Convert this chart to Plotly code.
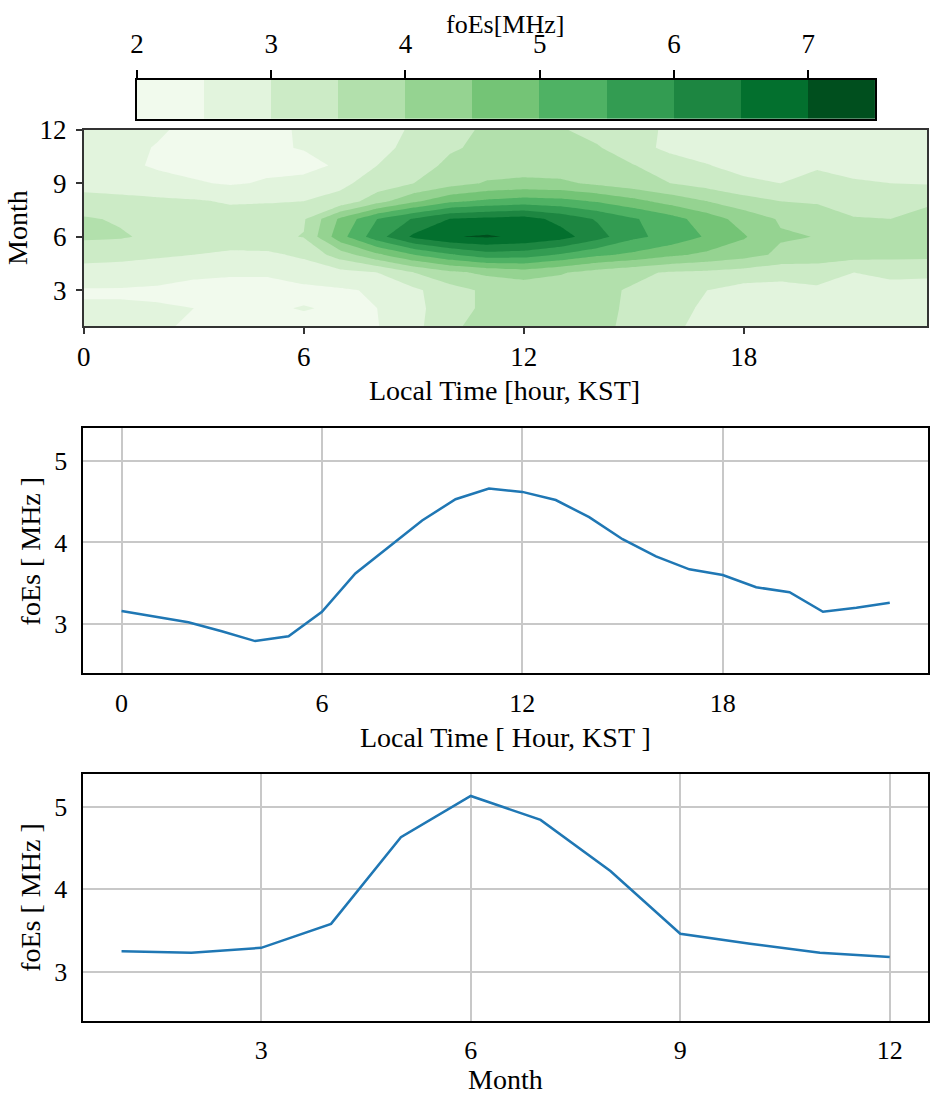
import plotly.graph_objects as go

# ---------------- data ----------------
hours = list(range(24))
months = list(range(1, 13))

# foEs [MHz] grid, rows = months 1..12, columns = local time 0..23 h
foes_m01 = [2.6, 2.6, 2.55, 2.45, 2.4, 2.4, 2.4, 2.4, 2.48, 2.85, 3.4, 3.7, 3.8, 3.75, 3.65, 3.35, 3.1, 2.85, 2.75, 2.75, 2.75, 2.75, 2.75, 2.75]
foes_m02 = [2.55, 2.55, 2.55, 2.5, 2.45, 2.45, 2.52, 2.45, 2.5, 2.85, 3.3, 3.6, 3.7, 3.75, 3.65, 3.4, 3.1, 2.95, 2.75, 2.75, 2.75, 2.75, 2.75, 2.75]
foes_m03 = [2.45, 2.45, 2.4, 2.35, 2.35, 2.35, 2.4, 2.45, 2.55, 2.9, 3.3, 3.6, 3.65, 3.7, 3.6, 3.45, 3.15, 3.0, 2.8, 2.85, 2.9, 2.9, 2.85, 2.9]
foes_m04 = [2.9, 2.85, 2.8, 2.6, 2.55, 2.55, 2.7, 2.85, 3.0, 3.5, 3.9, 4.1, 4.25, 4.05, 3.8, 3.6, 3.45, 3.4, 3.3, 3.15, 3.25, 3.0, 3.1, 3.05]
foes_m05 = [3.1, 3.1, 3.05, 3.0, 2.9, 2.9, 3.1, 3.75, 4.4, 5.0, 5.45, 5.8, 5.75, 5.45, 5.1, 4.9, 4.6, 4.4, 4.2, 3.9, 3.75, 3.7, 3.65, 3.65]
foes_m06 = [3.6, 3.55, 3.4, 3.3, 3.3, 3.4, 3.52, 4.82, 5.8, 6.6, 6.98, 7.05, 6.92, 6.7, 6.2, 5.6, 5.35, 4.94, 4.55, 4.05, 3.99, 3.9, 3.85, 3.8]
foes_m07 = [3.55, 3.45, 3.3, 3.25, 3.2, 3.35, 3.45, 4.6, 5.5, 6.05, 6.52, 6.62, 6.7, 6.35, 5.95, 5.55, 5.2, 4.75, 4.3, 3.95, 3.75, 3.52, 3.5, 3.7]
foes_m08 = [3.2, 3.15, 3.1, 3.05, 2.95, 2.95, 3.0, 3.15, 3.8, 4.4, 4.9, 5.1, 5.22, 5.15, 4.95, 4.65, 4.3, 4.0, 3.7, 3.5, 3.45, 3.35, 3.3, 3.4]
foes_m09 = [2.8, 2.75, 2.65, 2.55, 2.45, 2.55, 2.6, 2.9, 3.2, 3.5, 3.8, 4.05, 4.15, 4.1, 3.9, 3.7, 3.5, 3.3, 3.1, 3.0, 3.15, 3.05, 3.0, 2.97]
foes_m10 = [2.75, 2.6, 2.45, 2.35, 2.35, 2.38, 2.4, 2.55, 3.0, 3.3, 3.6, 3.75, 3.7, 3.7, 3.6, 3.52, 3.2, 3.02, 2.85, 2.85, 2.95, 2.85, 2.8, 2.8]
foes_m11 = [2.7, 2.6, 2.48, 2.4, 2.4, 2.45, 2.52, 2.65, 2.9, 3.1, 3.45, 3.6, 3.6, 3.65, 3.55, 3.15, 2.9, 2.8, 2.7, 2.7, 2.75, 2.7, 2.7, 2.7]
foes_m12 = [2.7, 2.6, 2.55, 2.4, 2.4, 2.4, 2.55, 2.7, 2.85, 3.05, 3.4, 3.55, 3.55, 3.55, 3.3, 3.1, 2.95, 2.8, 2.65, 2.65, 2.65, 2.65, 2.65, 2.65]
foes_grid = [foes_m01, foes_m02, foes_m03, foes_m04, foes_m05, foes_m06,
             foes_m07, foes_m08, foes_m09, foes_m10, foes_m11, foes_m12]

levels = [2.0, 2.5, 3.0, 3.5, 4.0, 4.5, 5.0, 5.5, 6.0, 6.5, 7.0, 7.5]
level_colors = ['#f1faed', '#e2f4dd', '#ccebc6', '#b2e0ac', '#95d391', '#74c476',
                '#4fb264', '#339c52', '#1d8641', '#03702e', '#004f1e']
cbar_ticks = [2, 3, 4, 5, 6, 7]

diurnal_hours = list(range(24))
diurnal_foes = [3.16, 3.09, 3.02, 2.91, 2.79, 2.85, 3.15, 3.62, 3.95, 4.27, 4.53, 4.66,
                4.62, 4.52, 4.31, 4.04, 3.83, 3.67, 3.60, 3.45, 3.39, 3.15, 3.20, 3.26]

monthly_months = list(range(1, 13))
monthly_foes = [3.25, 3.23, 3.29, 3.58, 4.63, 5.13, 4.84, 4.22, 3.46, 3.34, 3.23, 3.18]

# ---------------- helpers ----------------
W, H = 937, 1096
FONT = "Liberation Serif"
# observed placement of the rendered paper inside the captured picture
OX, SX, OY, SY = 5.6, 0.996, 13.0, 0.988


def fx(r):
    return ((r - OX) / SX) / W


def fy(r):
    return 1 - ((r - OY) / SY) / H


n_band = len(level_colors)
# contour fill colour map: positions k/12 for regions (<start, bands..., >end)
fill_cols = [level_colors[0]] + level_colors + [level_colors[-1]]
contour_scale = [[k / (len(fill_cols) - 1), c] for k, c in enumerate(fill_cols)]

# stepped scale for the colour-bar strip
strip_scale = []
for i, c in enumerate(level_colors):
    strip_scale.append([i / n_band, c])
    strip_scale.append([(i + 1) / n_band, c])
mids = [(levels[i] + levels[i + 1]) / 2 for i in range(n_band)]

fig = go.Figure()

# colour-bar strip
fig.add_trace(go.Heatmap(x=levels, y=[0, 1], z=[mids], colorscale=strip_scale,
                         zmin=levels[0], zmax=levels[-1], showscale=False,
                         xaxis="x3", yaxis="y3", hoverinfo="skip"))

# filled contour
fig.add_trace(go.Contour(x=hours, y=months, z=foes_grid, colorscale=contour_scale,
                         contours=dict(start=levels[0], end=levels[-1],
                                       size=levels[1] - levels[0],
                                       coloring="fill", showlines=False),
                         line=dict(width=0, smoothing=0), showscale=False,
                         xaxis="x2", yaxis="y2"))

# diurnal line
fig.add_trace(go.Scatter(x=diurnal_hours, y=diurnal_foes, mode="lines",
                         line=dict(color="#1f77b4", width=2.5),
                         xaxis="x", yaxis="y", showlegend=False))
# monthly line
fig.add_trace(go.Scatter(x=monthly_months, y=monthly_foes, mode="lines",
                         line=dict(color="#1f77b4", width=2.5),
                         xaxis="x4", yaxis="y4", showlegend=False))

tick_font_c = dict(family=FONT, size=27, color="black")
tick_font_l = dict(family=FONT, size=26, color="black")

line_ax = dict(showline=True, mirror=True, linecolor="black", linewidth=1.6,
               showgrid=True, gridcolor="#c8c8c8", gridwidth=1.5,
               zeroline=False, ticks="", tickfont=tick_font_l)

fig.update_layout(
    width=W, height=H,
    margin=dict(l=0, r=0, t=0, b=0),
    paper_bgcolor="white", plot_bgcolor="white",
    showlegend=False,
    # colour bar axes
    xaxis3=dict(domain=[fx(136), fx(877)], anchor="y3", side="top",
                range=[levels[0], levels[-1]], tickvals=cbar_ticks,
                ticks="outside", ticklen=8, tickwidth=1.5, tickcolor="black",
                ticklabelstandoff=6,
                showline=True, mirror=True, linecolor="black", linewidth=1.5,
                showgrid=False, zeroline=False, tickfont=tick_font_c),
    yaxis3=dict(domain=[fy(117), fy(78)], anchor="x3", range=[0, 1],
                showticklabels=False, ticks="", showgrid=False, zeroline=False,
                showline=True, mirror=True, linecolor="black", linewidth=1.5),
    # contour axes
    xaxis2=dict(domain=[fx(82.7), fx(929)], anchor="y2", range=[0, 23],
                tickvals=[0, 6, 12, 18], ticks="outside", ticklen=6, tickwidth=1.5,
                tickcolor="#333", showline=True, mirror=True, linecolor="#333",
                linewidth=2, showgrid=False, zeroline=False, tickfont=tick_font_c),
    yaxis2=dict(domain=[fy(324.5), fy(128)], anchor="x2", range=[1, 12],
                tickvals=[3, 6, 9, 12], ticks="outside", ticklen=6, tickwidth=1.5,
                tickcolor="#333", ticklabelstandoff=4,
                showline=True, mirror=True, linecolor="#333",
                linewidth=2, showgrid=False, zeroline=False, tickfont=tick_font_c),
    # diurnal line axes
    xaxis=dict(domain=[fx(82), fx(930)], anchor="y", range=[-1.15, 24.15],
               tickvals=[0, 6, 12, 18], ticklabelstandoff=6, **line_ax),
    yaxis=dict(domain=[fy(672), fy(427)], anchor="x", range=[2.4, 5.4],
               tickvals=[3, 4, 5], ticklabelstandoff=9, **line_ax),
    # monthly line axes
    xaxis4=dict(domain=[fx(82), fx(930)], anchor="y4", range=[0.45, 12.55],
                tickvals=[3, 6, 9, 12], ticklabelstandoff=5, **line_ax),
    yaxis4=dict(domain=[fy(1021), fy(773)], anchor="x4", range=[2.4, 5.4],
                tickvals=[3, 4, 5], ticklabelstandoff=9, **line_ax),
)

annots = [
    dict(text="foEs[MHz]", x=fx(505), y=fy(23), textangle=0, size=26),
    dict(text="Local Time [hour, KST]", x=fx(505), y=fy(389), textangle=0, size=28),
    dict(text="Month", x=fx(16), y=fy(226), textangle=-90, size=28),
    dict(text="foEs [ MHz ]", x=fx(29), y=fy(550), textangle=-90, size=28),
    dict(text="Local Time [ Hour, KST ]", x=fx(506), y=fy(737), textangle=0, size=28),
    dict(text="foEs [ MHz ]", x=fx(29), y=fy(897), textangle=-90, size=28),
    dict(text="Month", x=fx(506), y=fy(1079), textangle=0, size=28),
]
for a in annots:
    sz = a.pop("size")
    fig.add_annotation(xref="paper", yref="paper", showarrow=False,
                       xanchor="center", yanchor="middle",
                       font=dict(family=FONT, size=sz, color="black"), **a)

# place the figure flush with the page corner (no default body margin)
fig.write_html("out.html", config={"displayModeBar": False},
               post_script="document.body.style.margin='0px';"
                           "document.body.style.overflow='hidden';")
